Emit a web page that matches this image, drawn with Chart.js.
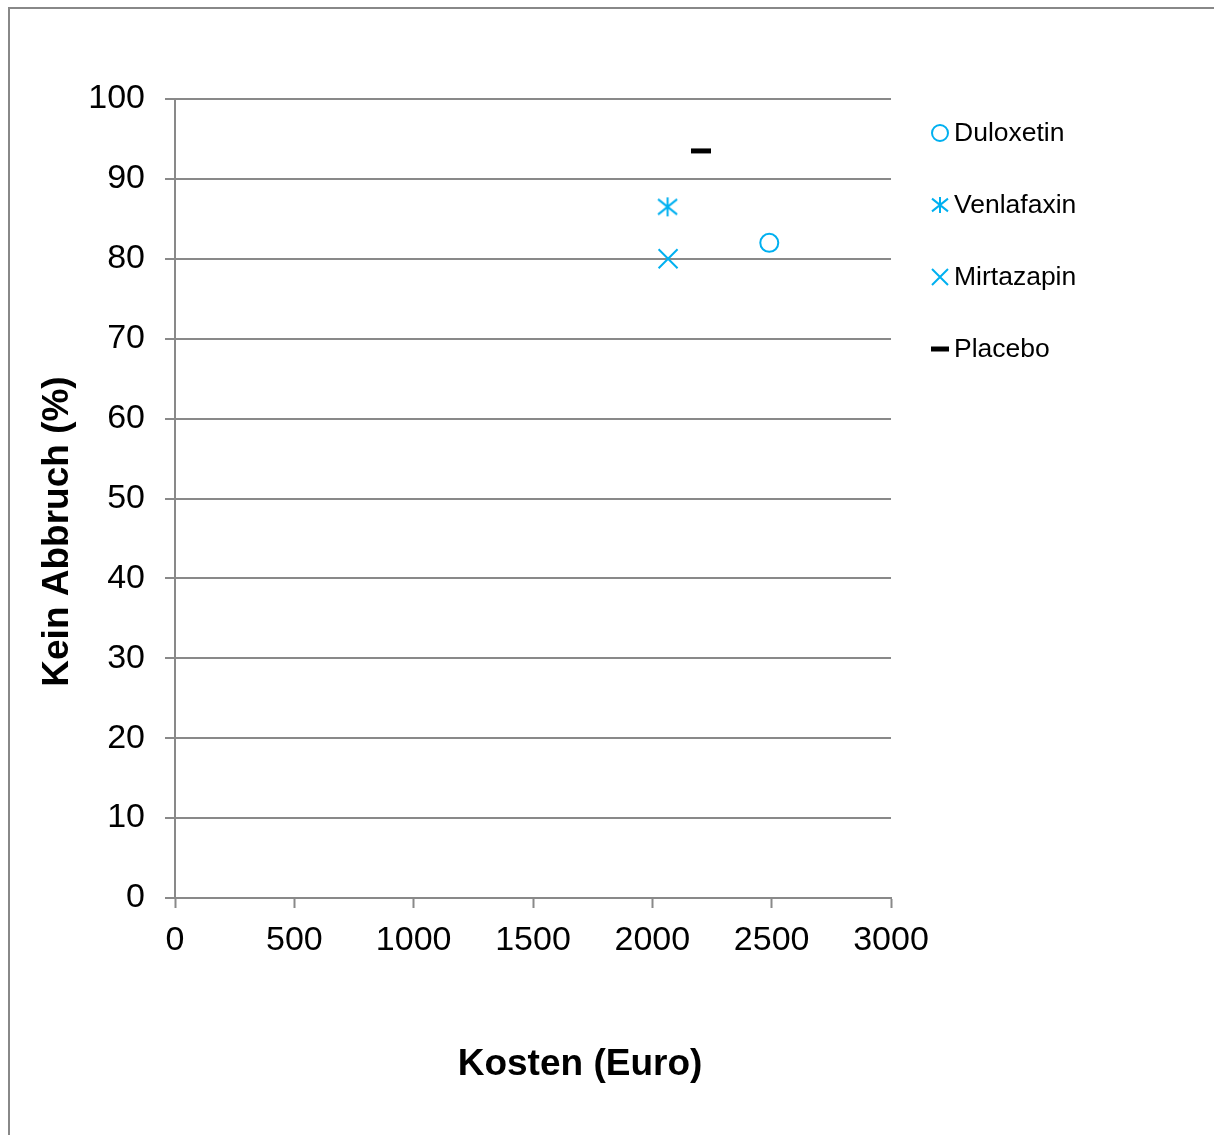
<!DOCTYPE html>
<html><head><meta charset="utf-8">
<script src="https://cdn.jsdelivr.net/npm/chart.js@4.4.0/dist/chart.umd.min.js"></script>
<style>
html,body{margin:0;padding:0;background:#fff;}
#wrap{position:relative;width:1214px;height:1135px;overflow:hidden;background:#fff;}
#frame{position:absolute;left:8px;top:7px;width:1300px;height:1300px;border-left:2px solid #888;border-top:2px solid #888;}
#c{position:absolute;left:0;top:0;}
</style></head><body>
<div id="wrap"><div id="frame"></div><canvas id="c" width="1214" height="1135"></canvas></div>
<script>
// ---- data ----
const seriesNames = ['Duloxetin', 'Venlafaxin', 'Mirtazapin', 'Placebo'];
const costEuro = [2490, 2064, 2066, 2204];
const keinAbbruch = [82.0, 86.5, 80.0, 93.5];
const xTickValues = [0, 500, 1000, 1500, 2000, 2500, 3000];
const yTickValues = [0, 10, 20, 30, 40, 50, 60, 70, 80, 90, 100];
const xTitle = 'Kosten (Euro)';
const yTitle = 'Kein Abbruch (%)';

const BLUE = '#00B0F0';
const GRID = '#898989';
const FONT = '"Liberation Sans", Arial, sans-serif';

function makeAsterisk(size, color, lw) {
  const c = document.createElement('canvas');
  c.width = size; c.height = size;
  const g = c.getContext('2d');
  const m = size / 2, r = size / 2 - 1;
  g.strokeStyle = color; g.lineWidth = lw;
  g.beginPath();
  g.moveTo(m, m - r); g.lineTo(m, m + r);
  g.moveTo(m - r, m - r * 0.8); g.lineTo(m + r, m + r * 0.8);
  g.moveTo(m + r, m - r * 0.8); g.lineTo(m - r, m + r * 0.8);
  g.stroke();
  return c;
}

function drawMarker(ctx, kind, x, y, r) {
  ctx.save();
  ctx.lineCap = 'butt';
  if (kind === 'circle') {
    ctx.strokeStyle = BLUE; ctx.lineWidth = 2;
    ctx.beginPath(); ctx.arc(x, y, r, 0, Math.PI * 2); ctx.stroke();
  } else if (kind === 'asterisk') {
    ctx.strokeStyle = BLUE; ctx.lineWidth = 2;
    ctx.beginPath();
    ctx.moveTo(x, y - r); ctx.lineTo(x, y + r);
    ctx.moveTo(x - r, y - r * 0.8); ctx.lineTo(x + r, y + r * 0.8);
    ctx.moveTo(x + r, y - r * 0.8); ctx.lineTo(x - r, y + r * 0.8);
    ctx.stroke();
  } else if (kind === 'cross') {
    ctx.strokeStyle = BLUE; ctx.lineWidth = 2;
    ctx.beginPath();
    ctx.moveTo(x - r, y - r); ctx.lineTo(x + r, y + r);
    ctx.moveTo(x + r, y - r); ctx.lineTo(x - r, y + r);
    ctx.stroke();
  } else {
    ctx.strokeStyle = '#000'; ctx.lineWidth = 5;
    ctx.beginPath(); ctx.moveTo(x - r, y); ctx.lineTo(x + r, y); ctx.stroke();
  }
  ctx.restore();
}

const markerKinds = ['circle', 'asterisk', 'cross', 'dash'];

const datasets = seriesNames.map((name, i) => {
  const base = { label: name, data: [{ x: costEuro[i], y: keinAbbruch[i] }], showLine: false, backgroundColor: 'rgba(0,0,0,0)' };
  if (i === 0) return Object.assign(base, { pointStyle: 'circle', pointRadius: 9, borderColor: BLUE, borderWidth: 2 });
  if (i === 1) return Object.assign(base, { pointStyle: makeAsterisk(21, BLUE, 2), pointRadius: 10, borderColor: BLUE });
  if (i === 2) return Object.assign(base, { pointStyle: 'crossRot', pointRadius: 13.4, borderColor: BLUE, borderWidth: 2 });
  return Object.assign(base, { pointStyle: 'line', pointRadius: 10, borderColor: '#000', borderWidth: 5 });
});

const overlay = {
  id: 'overlay',
  afterDraw(chart) {
    const ctx = chart.ctx, a = chart.chartArea;
    ctx.save();
    ctx.fillStyle = '#000';
    ctx.textAlign = 'center';
    ctx.textBaseline = 'middle';
    ctx.font = 'bold 37px ' + FONT;
    ctx.fillText(xTitle, a.left + 405, a.bottom + 167);
    ctx.save();
    ctx.translate(a.left - 117, (a.top + a.bottom) / 2 + 33);
    ctx.rotate(-Math.PI / 2);
    ctx.fillText(yTitle, 0, 0);
    ctx.restore();
    // legend
    ctx.font = '26.5px ' + FONT;
    ctx.textAlign = 'left';
    const sizes = [8, 8, 8, 9];
    chart.data.datasets.forEach((ds, i) => {
      const yy = a.top + 34 + i * 72;
      drawMarker(ctx, markerKinds[i], a.right + 49, yy, sizes[i]);
      ctx.fillText(ds.label, a.right + 63, yy + 1);
    });
    ctx.restore();
  }
};

new Chart(document.getElementById('c'), {
  type: 'scatter',
  data: { datasets },
  plugins: [overlay],
  options: {
    responsive: false,
    animation: false,
    devicePixelRatio: 1,
    layout: { padding: { top: 99, right: 323, left: 0, bottom: 0 } },
    plugins: { legend: { display: false }, tooltip: { enabled: false } },
    scales: {
      x: {
        type: 'linear', min: 0, max: 3000,
        afterBuildTicks: s => { s.ticks = xTickValues.map(v => ({ value: v })); },
        afterFit: s => { s.height = 237; },
        ticks: { color: '#000', font: { size: 34, family: FONT }, padding: 12, maxRotation: 0, callback: v => String(v) },
        grid: { drawOnChartArea: false, drawTicks: true, tickLength: 10, tickColor: GRID, tickWidth: 2 },
        border: { color: GRID, width: 2 }
      },
      y: {
        type: 'linear', min: 0, max: 100,
        afterBuildTicks: s => { s.ticks = yTickValues.map(v => ({ value: v })); },
        afterFit: s => { s.width = 175; },
        ticks: { color: '#000', font: { size: 34, family: FONT }, padding: 20, callback: v => String(v) },
        grid: { color: GRID, lineWidth: 2, drawTicks: true, tickLength: 10, tickColor: GRID, tickWidth: 2 },
        border: { color: GRID, width: 2 }
      }
    }
  }
});
</script>
</body></html>
